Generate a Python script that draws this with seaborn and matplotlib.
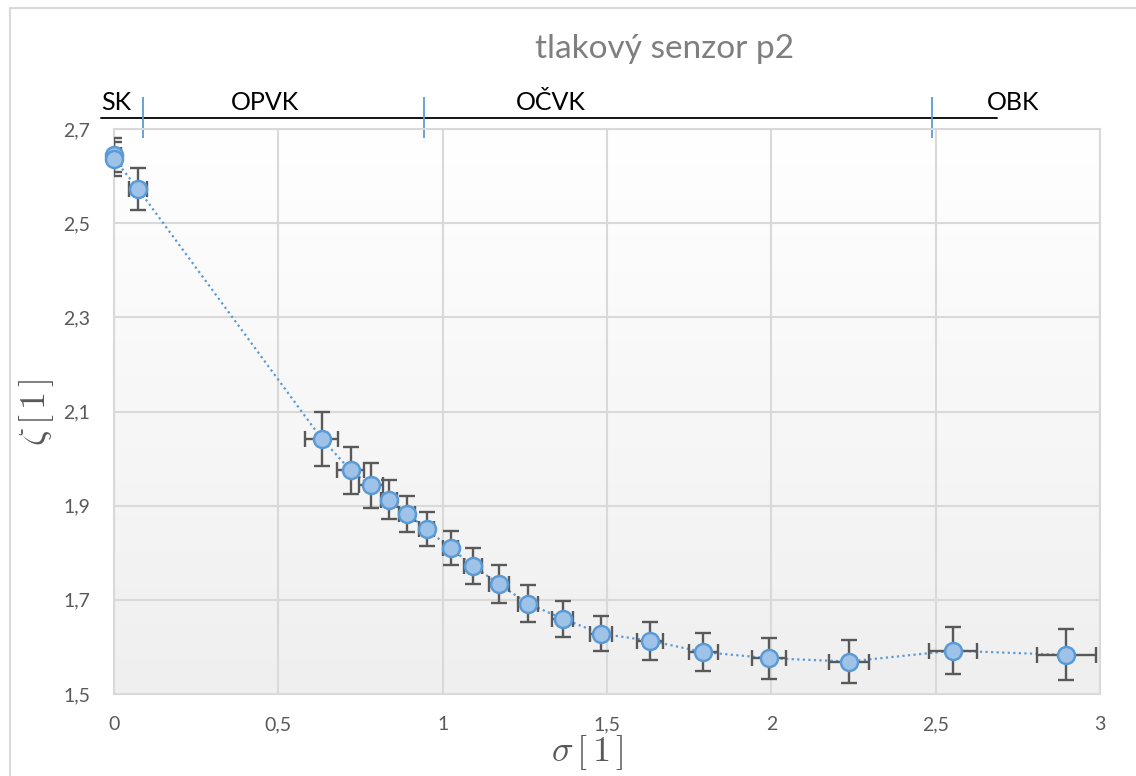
import numpy as np
import pandas as pd
import matplotlib
matplotlib.use("Agg")
import matplotlib.pyplot as plt
from matplotlib.colors import LinearSegmentedColormap
import seaborn as sns

# ---------------- data ----------------
sigma = [0.0, 0.0, 0.073, 0.632, 0.720, 0.781, 0.837, 0.892, 0.951, 1.024, 1.093,
         1.172, 1.260, 1.365, 1.482, 1.631, 1.793, 1.994, 2.236, 2.552, 2.898]
zeta = [2.645, 2.637, 2.573, 2.042, 1.975, 1.943, 1.913, 1.883, 1.850, 1.810, 1.772,
        1.733, 1.692, 1.660, 1.628, 1.613, 1.589, 1.576, 1.569, 1.592, 1.583]
sigma_err = [0.020, 0.020, 0.027, 0.051, 0.040, 0.037, 0.024, 0.024, 0.022, 0.024, 0.027,
             0.030, 0.030, 0.032, 0.034, 0.039, 0.045, 0.052, 0.061, 0.073, 0.089]
zeta_err = [0.036, 0.036, 0.045, 0.057, 0.050, 0.047, 0.041, 0.038, 0.036, 0.037, 0.038,
            0.040, 0.040, 0.038, 0.037, 0.040, 0.041, 0.044, 0.046, 0.050, 0.054]

region_names = ["SK", "OPVK", "OČVK", "OBK"]
region_bounds = [0.088, 0.943, 2.49]

x_ticks = [0, 0.5, 1, 1.5, 2, 2.5, 3]
x_ticklabels = ["0", "0,5", "1", "1,5", "2", "2,5", "3"]
y_ticks = [1.5, 1.7, 1.9, 2.1, 2.3, 2.5, 2.7]
y_ticklabels = ["1,5", "1,7", "1,9", "2,1", "2,3", "2,5", "2,7"]

title = "tlakový senzor p2"

df = pd.DataFrame({"sigma": sigma, "zeta": zeta})

# ---------------- style ----------------
sns.set_theme(style="white")
plt.rcParams["font.family"] = ["Lato", "DejaVu Sans"]
plt.rcParams["mathtext.fontset"] = "cm"

W, H = 1136, 776
fig = plt.figure(figsize=(W / 100, H / 100), dpi=100)
ax = fig.add_axes([114 / W, 1 - 694 / H, (1100 - 114) / W, (694 - 129) / H])

# background gradient of plot area
cmap = LinearSegmentedColormap.from_list("bg", ["#efefef", "#ffffff"])
ax.imshow(np.linspace(0, 1, 256).reshape(-1, 1), extent=[0, 3, 1.5, 2.7],
          origin="lower", aspect="auto", cmap=cmap, zorder=0)

# connecting dotted line
sns.lineplot(data=df, x="sigma", y="zeta", sort=False, estimator=None, ax=ax,
             color="#5b9bd5", linestyle=(0, (1, 1.5)), linewidth=1.6, zorder=2)

# error bars
ax.errorbar(sigma, zeta, xerr=sigma_err, yerr=zeta_err, fmt="none",
            ecolor="#595959", elinewidth=1.7, capsize=5.5, capthick=1.7, zorder=3)

# markers
sns.scatterplot(data=df, x="sigma", y="zeta", ax=ax, s=150, color="#9fc2e8",
                edgecolor="#5b9bd5", linewidth=1.8, zorder=4, clip_on=False)

ax.set_xlim(0, 3)
ax.set_ylim(1.5, 2.7)
ax.set_xticks(x_ticks)
ax.set_xticklabels(x_ticklabels)
ax.set_yticks(y_ticks)
ax.set_yticklabels(y_ticklabels)
ax.tick_params(axis="both", length=0, labelsize=14, labelcolor="#595959")
ax.tick_params(axis="x", pad=16)
ax.tick_params(axis="y", pad=17)
ax.grid(True, color="#d9d9d9", linewidth=1.5)
ax.set_axisbelow(True)
for s in ax.spines.values():
    s.set_color("#d9d9d9")
    s.set_linewidth(1.5)
ax.set_xlabel("")
ax.set_ylabel("")

# region annotation above the plot
ax.plot([-0.04, 2.686], [2.723, 2.723], color="black", linewidth=1.3, clip_on=False)
ax.vlines(region_bounds, 2.681, 2.767, color="#5b9bd5", linewidth=1.3, clip_on=False)
label_x = [-0.04, 0.459, 1.33, 2.735]
label_ha = ["left", "center", "center", "center"]
for name, lx, ha in zip(region_names, label_x, label_ha):
    ax.text(lx, 2.740, name, ha=ha, va="baseline", fontsize=18, color="black",
            clip_on=False)

# title and axis labels
fig.text(665 / W, 1 - 58 / H, title, ha="center", va="baseline", fontsize=24,
         color="#7f7f7f")
fig.text(587 / W, 1 - 752 / H, r"$\sigma\,[\,1\,]$", ha="center", va="center",
         fontsize=26, color="#595959")
fig.text(37 / W, 1 - 412 / H, r"$\zeta\,[\,1\,]$", ha="center", va="center",
         fontsize=26, color="#595959", rotation=90)

# chart border (left and top visible)
fig.add_artist(plt.Line2D([10 / W, 10 / W], [0, 1 - 8 / H], color="#d9d9d9",
                          linewidth=1.5, transform=fig.transFigure))
fig.add_artist(plt.Line2D([10 / W, 1], [1 - 8 / H, 1 - 8 / H], color="#d9d9d9",
                          linewidth=1.5, transform=fig.transFigure))

fig.savefig("out.png", dpi=100)
